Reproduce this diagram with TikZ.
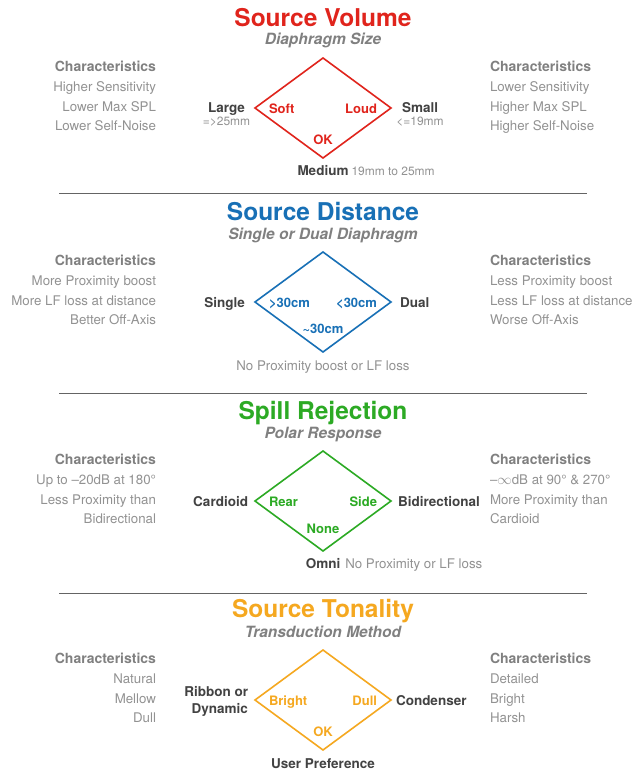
\documentclass[tikz,border=0pt]{standalone}
\usepackage{fontspec}
\setmainfont{TeX Gyre Heros}
\usetikzlibrary{shapes.geometric, positioning}

\definecolor{volred}{RGB}{224,36,28}
\definecolor{distblue}{RGB}{24,112,182}
\definecolor{spillgreen}{RGB}{44,170,36}
\definecolor{toneorange}{RGB}{245,168,32}
\definecolor{subgray}{RGB}{128,128,128}
\definecolor{txtgray}{RGB}{146,146,146}
\definecolor{labgray}{RGB}{66,66,66}
\definecolor{rulegray}{RGB}{100,100,100}

\begin{document}
\begin{tikzpicture}[
  x=1pt, y=-1pt,
  every node/.style={inner sep=0pt, outer sep=0pt},
  ttl/.style={font=\fontsize{24.5}{27}\selectfont\bfseries, anchor=base},
  subttl/.style={font=\fontsize{15.5}{17}\selectfont\bfseries\itshape, text=subgray, anchor=base},
  charhead/.style={font=\fontsize{14}{16}\selectfont\bfseries, text=subgray},
  chartxt/.style={font=\fontsize{13.3}{16}\selectfont, text=txtgray},
  dia/.style={diamond, draw, line width=1.6pt, minimum width=136pt, minimum height=100pt},
  inlbl/.style={font=\fontsize{13}{15}\selectfont\bfseries},
  outlbl/.style={font=\fontsize{13.5}{17.5}\selectfont\bfseries, text=labgray},
  notetxt/.style={font=\fontsize{12}{14}\selectfont, text=txtgray},
  seprule/.style={draw=rulegray, line width=0.8pt}
]
  \path[use as bounding box, fill=white] (0,0) rectangle (644,776);

  % source volume
  \begin{scope}[shift={(323,108)}]
    \node[dia, draw=volred] (volDia) at (0,0) {};
    \node[ttl, text=volred] (volTtl) at (0,-81) {Source Volume};
    \node[subttl] (volSub) at (0,-63) {Diaphragm Size};
    \node[charhead, anchor=base east] (volHeadL) at (-167,-36.5) {Characteristics};
    \node[charhead, anchor=base west] (volHeadR) at (167,-36.5) {Characteristics};
    \foreach \t [count=\i] in {Higher Sensitivity, Lower Max SPL, Lower Self-Noise}
      \node[chartxt, anchor=base east] (volL\i) at (-167,{-36.5+19.8*\i}) {\t};
    \foreach \t [count=\i] in {Lower Sensitivity, Higher Max SPL, Higher Self-Noise}
      \node[chartxt, anchor=base west] (volR\i) at (167,{-36.5+19.8*\i}) {\t};
    \node[inlbl, text=volred, anchor=base west] (soft) at (-54,5) {Soft};
    \node[inlbl, text=volred, anchor=base east] (loud) at (54,5) {Loud};
    \node[inlbl, text=volred, anchor=base] (volOk) at (0,36) {OK};
    \node[outlbl, anchor=base east] (large) at (-78,4) {Large};
    \node[notetxt, anchor=base] (largeMm) at ([yshift=-13pt]large.base) {=>25mm};
    \node[outlbl, anchor=base west] (small) at (79,4) {Small};
    \node[notetxt, anchor=base] (smallMm) at ([yshift=-13pt]small.base) {<=19mm};
    \node[outlbl, anchor=base] (medium) at (0,67) {Medium};
    \node[notetxt, anchor=base west] (mediumMm) at ([xshift=3pt]medium.base east) {19mm to 25mm};
  \end{scope}

  \draw[seprule] (59,193) -- (587,193);

  % source distance
  \begin{scope}[shift={(323,302)}]
    \node[dia, draw=distblue] (distDia) at (0,0) {};
    \node[ttl, text=distblue] (distTtl) at (0,-82) {Source Distance};
    \node[subttl] (distSub) at (0,-63) {Single or Dual Diaphragm};
    \node[charhead, anchor=base east] (distHeadL) at (-167,-36.5) {Characteristics};
    \node[charhead, anchor=base west] (distHeadR) at (167,-36.5) {Characteristics};
    \foreach \t [count=\i] in {More Proximity boost, More LF loss at distance, Better Off-Axis}
      \node[chartxt, anchor=base east] (distL\i) at (-167,{-36.5+19.8*\i}) {\t};
    \foreach \t [count=\i] in {Less Proximity boost, Less LF loss at distance, Worse Off-Axis}
      \node[chartxt, anchor=base west] (distR\i) at (167,{-36.5+19.8*\i}) {\t};
    \node[inlbl, text=distblue, anchor=base west] (far) at (-54,5) {>30cm};
    \node[inlbl, text=distblue, anchor=base east] (near) at (54,5) {<30cm};
    \node[inlbl, text=distblue, anchor=base] (mid) at (0,31) {\textasciitilde30cm};
    \node[outlbl, anchor=base east] (single) at (-78,5) {Single};
    \node[outlbl, anchor=base west] (dual) at (77,5) {Dual};
    \node[chartxt, anchor=base] (distNote) at (0,68) {No Proximity boost or LF loss};
  \end{scope}

  \draw[seprule] (59,393) -- (587,393);

  % spill rejection
  \begin{scope}[shift={(323,501)}]
    \node[dia, draw=spillgreen] (spillDia) at (0,0) {};
    \node[ttl, text=spillgreen] (spillTtl) at (0,-82) {Spill Rejection};
    \node[subttl] (spillSub) at (0,-63) {Polar Response};
    \node[charhead, anchor=base east] (spillHeadL) at (-167,-36.5) {Characteristics};
    \node[charhead, anchor=base west] (spillHeadR) at (167,-36.5) {Characteristics};
    \foreach \t [count=\i] in {Up to --20dB at 180°, Less Proximity than, Bidirectional}
      \node[chartxt, anchor=base east] (spillL\i) at (-167,{-36.5+19.8*\i}) {\t};
    \foreach \t [count=\i] in {--$\infty$dB at 90° \& 270°, More Proximity than, Cardioid}
      \node[chartxt, anchor=base west] (spillR\i) at (167,{-36.5+19.8*\i}) {\t};
    \node[inlbl, text=spillgreen, anchor=base west] (rear) at (-54,5) {Rear};
    \node[inlbl, text=spillgreen, anchor=base east] (side) at (54,5) {Side};
    \node[inlbl, text=spillgreen, anchor=base] (none) at (0,32) {None};
    \node[outlbl, anchor=base east] (cardioid) at (-75,5) {Cardioid};
    \node[outlbl, anchor=base west] (bidir) at (75,5) {Bidirectional};
    \node[outlbl, anchor=base] (omni) at (0,67) {Omni};
    \node[chartxt, anchor=base west] (omniNote) at ([xshift=5pt]omni.base east) {No Proximity or LF loss};
  \end{scope}

  \draw[seprule] (59,593) -- (587,593);

  % source tonality
  \begin{scope}[shift={(323,700)}]
    \node[dia, draw=toneorange] (toneDia) at (0,0) {};
    \node[ttl, text=toneorange] (toneTtl) at (0,-83) {Source Tonality};
    \node[subttl] (toneSub) at (0,-63) {Transduction Method};
    \node[charhead, anchor=base east] (toneHeadL) at (-167,-36.5) {Characteristics};
    \node[charhead, anchor=base west] (toneHeadR) at (167,-36.5) {Characteristics};
    \foreach \t [count=\i] in {Natural, Mellow, Dull}
      \node[chartxt, anchor=base east] (toneL\i) at (-167,{-36.5+19.8*\i}) {\t};
    \foreach \t [count=\i] in {Detailed, Bright, Harsh}
      \node[chartxt, anchor=base west] (toneR\i) at (167,{-36.5+19.8*\i}) {\t};
    \node[inlbl, text=toneorange, anchor=base west] (bright) at (-54,5) {Bright};
    \node[inlbl, text=toneorange, anchor=base east] (dull) at (54,5) {Dull};
    \node[inlbl, text=toneorange, anchor=base] (toneOk) at (0,36.5) {OK};
    \node[outlbl, align=right, anchor=east] (ribbon) at (-75,1.5) {Ribbon or\\Dynamic};
    \node[outlbl, anchor=base west] (condenser) at (73,5) {Condenser};
    \node[outlbl, anchor=base] (userPref) at (0,68) {User Preference};
  \end{scope}
\end{tikzpicture}
\end{document}
